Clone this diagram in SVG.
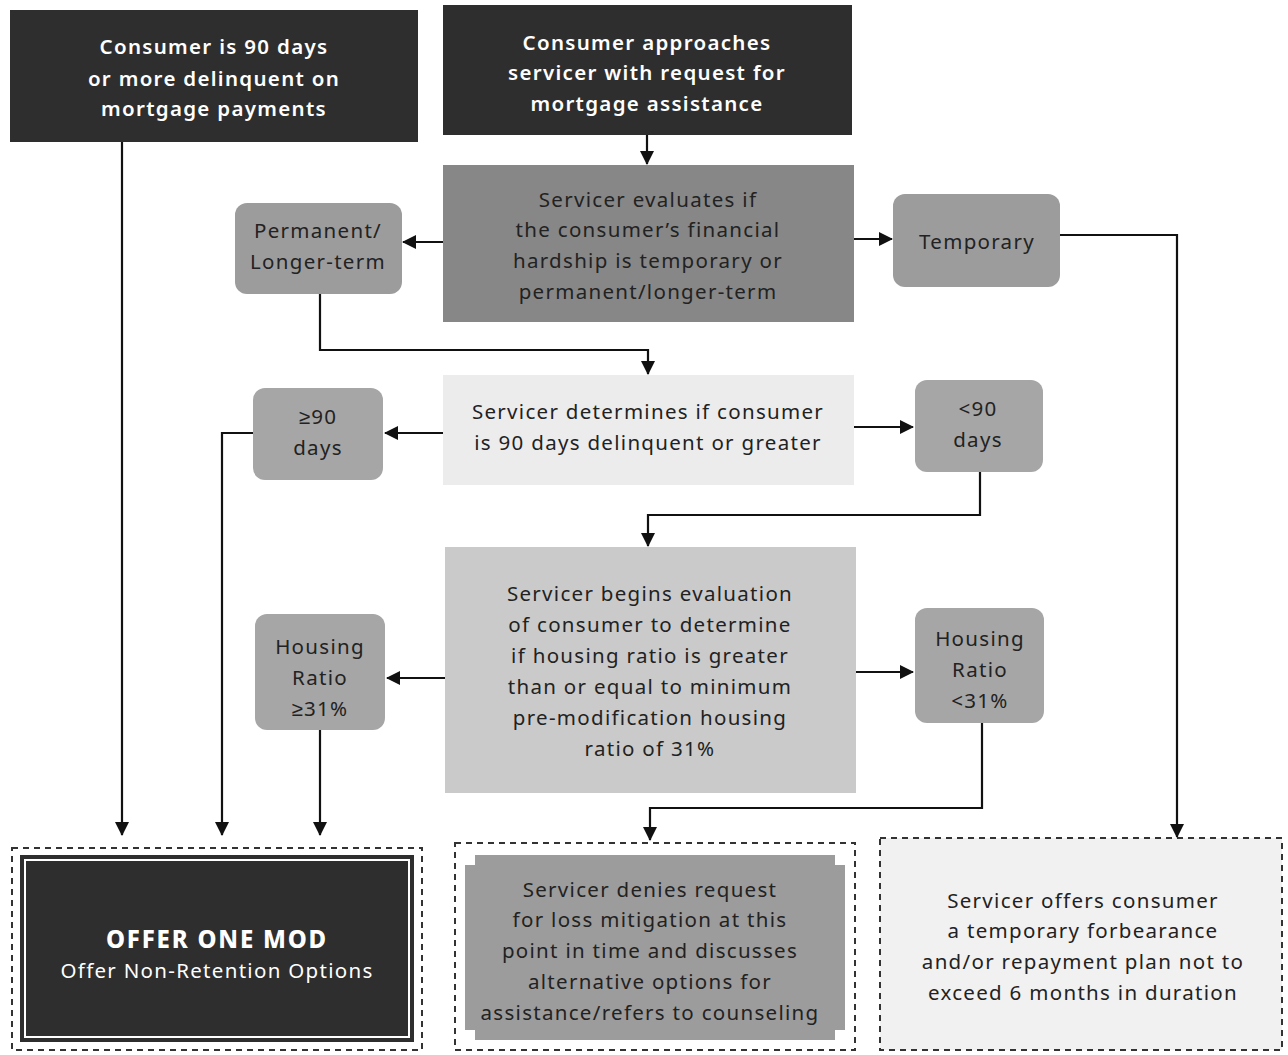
<svg xmlns="http://www.w3.org/2000/svg" width="1288" height="1055" viewBox="0 0 1288 1055">
<style>
text{font-family:"Noto Sans","Liberation Sans",sans-serif;text-anchor:middle;font-size:20.5px;letter-spacing:1.3px;fill:#222}
.w{fill:#fff;font-weight:600}
.wn{fill:#fff}
.con{fill:none;stroke:#111;stroke-width:2.2}
.dash{fill:none;stroke:#333;stroke-width:2;stroke-dasharray:6 5}
</style>
<defs>
<marker id="ah" viewBox="0 0 14 14" refX="13" refY="7" markerWidth="14" markerHeight="14" markerUnits="userSpaceOnUse" orient="auto">
<path d="M0,0 L14,7 L0,14 Z" fill="#111"/>
</marker>
</defs>
<rect width="1288" height="1055" fill="#fff"/>

<g id="n-delinquent">
<rect x="10" y="10" width="408" height="132" fill="#2e2e2e"/>
<text class="w" x="214" y="54">Consumer is 90 days</text>
<text class="w" x="214" y="86">or more delinquent on</text>
<text class="w" x="214" y="116">mortgage payments</text>
</g>
<g id="n-approaches">
<rect x="443" y="5" width="409" height="130" fill="#2e2e2e"/>
<text class="w" x="647" y="50">Consumer approaches</text>
<text class="w" x="647" y="80">servicer with request for</text>
<text class="w" x="647" y="111">mortgage assistance</text>
</g>
<g id="n-evaluates">
<rect x="443" y="165" width="411" height="157" fill="#878787"/>
<text x="648" y="207">Servicer evaluates if</text>
<text x="648" y="237">the consumer’s financial</text>
<text x="648" y="268">hardship is temporary or</text>
<text x="648" y="299">permanent/longer-term</text>
</g>
<g id="n-permanent">
<rect x="235" y="203" width="167" height="91" rx="12" fill="#9c9c9c"/>
<text x="318" y="238">Permanent/</text>
<text x="318" y="269">Longer-term</text>
</g>
<g id="n-temporary">
<rect x="893" y="194" width="167" height="93" rx="12" fill="#9c9c9c"/>
<text x="977" y="249">Temporary</text>
</g>
<g id="n-determines">
<rect x="443" y="375" width="411" height="110" fill="#ececec"/>
<text x="648" y="419">Servicer determines if consumer</text>
<text x="648" y="450">is 90 days delinquent or greater</text>
</g>
<g id="n-ge90">
<rect x="253" y="388" width="130" height="92" rx="12" fill="#a6a6a6"/>
<text x="318" y="424">≥90</text>
<text x="318" y="455">days</text>
</g>
<g id="n-lt90">
<rect x="915" y="380" width="128" height="92" rx="12" fill="#a6a6a6"/>
<text x="978" y="416">&lt;90</text>
<text x="978" y="447">days</text>
</g>
<g id="n-begins">
<rect x="445" y="547" width="411" height="246" fill="#cacaca"/>
<text x="650" y="601">Servicer begins evaluation</text>
<text x="650" y="632">of consumer to determine</text>
<text x="650" y="663">if housing ratio is greater</text>
<text x="650" y="694">than or equal to minimum</text>
<text x="650" y="725">pre-modification housing</text>
<text x="650" y="756">ratio of 31%</text>
</g>
<g id="n-hr-ge">
<rect x="255" y="614" width="130" height="116" rx="12" fill="#a6a6a6"/>
<text x="320" y="654">Housing</text>
<text x="320" y="685">Ratio</text>
<text x="320" y="716">≥31%</text>
</g>
<g id="n-hr-lt">
<rect x="915" y="608" width="129" height="115" rx="12" fill="#a6a6a6"/>
<text x="980" y="646">Housing</text>
<text x="980" y="677">Ratio</text>
<text x="980" y="708">&lt;31%</text>
</g>
<g id="n-offer">
<rect x="12" y="848" width="410" height="202" class="dash"/>
<rect x="20" y="855" width="394" height="187" fill="#2e2e2e"/>
<rect x="25" y="860" width="384" height="177" fill="none" stroke="#fff" stroke-width="2"/>
<text class="w" x="217" y="948" style="font-size:24px;font-weight:800;letter-spacing:1.8px">OFFER ONE MOD</text>
<text class="wn" x="217" y="978" style="font-size:20.5px">Offer Non-Retention Options</text>
</g>
<g id="n-denies">
<rect x="455" y="843" width="400" height="207" class="dash"/>
<path d="M475,855 H835 V865 H845 V1030 H835 V1040 H475 V1030 H465 V865 H475 Z" fill="#9c9c9c"/>
<text x="650" y="897">Servicer denies request</text>
<text x="650" y="927">for loss mitigation at this</text>
<text x="650" y="958">point in time and discusses</text>
<text x="650" y="989">alternative options for</text>
<text x="650" y="1020">assistance/refers to counseling</text>
</g>
<g id="n-forbearance">
<rect x="880" y="838" width="402" height="212" class="dash" style="fill:#f1f1f1"/>
<text x="1083" y="908">Servicer offers consumer</text>
<text x="1083" y="938">a temporary forbearance</text>
<text x="1083" y="969">and/or repayment plan not to</text>
<text x="1083" y="1000">exceed 6 months in duration</text>
</g>

<g id="connectors">
<path class="con" d="M647,135 V164" marker-end="url(#ah)"/>
<path class="con" d="M443,242 H403" marker-end="url(#ah)"/>
<path class="con" d="M854,239 H892" marker-end="url(#ah)"/>
<path class="con" d="M1060,235 H1177 V837" marker-end="url(#ah)"/>
<path class="con" d="M320,294 V350 H648 V374" marker-end="url(#ah)"/>
<path class="con" d="M443,433 H385" marker-end="url(#ah)"/>
<path class="con" d="M854,427 H913" marker-end="url(#ah)"/>
<path class="con" d="M253,433 H222 V835" marker-end="url(#ah)"/>
<path class="con" d="M980,472 V515 H648 V546" marker-end="url(#ah)"/>
<path class="con" d="M445,678 H387" marker-end="url(#ah)"/>
<path class="con" d="M856,672 H913" marker-end="url(#ah)"/>
<path class="con" d="M320,730 V835" marker-end="url(#ah)"/>
<path class="con" d="M982,723 V808 H650 V840" marker-end="url(#ah)"/>
<path class="con" d="M122,142 V835" marker-end="url(#ah)"/>
</g>
</svg>
